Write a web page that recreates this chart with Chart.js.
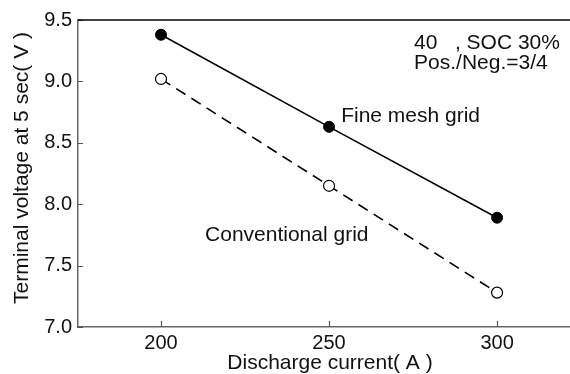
<!DOCTYPE html>
<html>
<head>
<meta charset="utf-8">
<script src="https://cdn.jsdelivr.net/npm/chart.js@4.4.1/dist/chart.umd.min.js"></script>
<style>
  html, body { margin: 0; padding: 0; background: #fff; }
  canvas { display: block; }
</style>
</head>
<body>
<canvas id="chart" width="570" height="374"></canvas>
<script>
// data
const currents = [200, 250, 300];
const fineMesh = [9.38, 8.63, 7.89];
const conventional = [9.02, 8.15, 7.28];
const xTicks = [200, 250, 300];
const yTicks = [7.0, 7.5, 8.0, 8.5, 9.0, 9.5];

// text labels inside the plot: [text, x value, y value]
const notes = [
    ["Fine mesh grid", 253.6, 8.72],
    ["Conventional grid", 213.1, 7.75],
    ["40   , SOC 30%", 275.3, 9.31],
    ["Pos./Neg.=3/4", 275.3, 9.15]
];

const FONT = "'Liberation Sans', Arial, sans-serif";
const INK = "#111";

const toPts = (ys) => currents.map((x, i) => ({ x: x, y: ys[i] }));

// inward tick marks, top frame line, axis titles and the text labels
const extras = {
    id: "extras",
    afterDraw(chart) {
        const ctx = chart.ctx;
        const a = chart.chartArea;
        const xs = chart.scales.x;
        const ys = chart.scales.y;
        ctx.save();
        ctx.strokeStyle = "#555";
        ctx.lineWidth = 1.2;
        ctx.beginPath();
        xTicks.forEach(v => {
            const px = Math.round(xs.getPixelForValue(v)) + 0.5;
            ctx.moveTo(px, a.bottom);
            ctx.lineTo(px, a.bottom - 6);
        });
        yTicks.forEach(v => {
            const py = Math.round(ys.getPixelForValue(v)) + 0.5;
            ctx.moveTo(a.left, py);
            ctx.lineTo(a.left + 5, py);
        });
        ctx.stroke();

        ctx.strokeStyle = "#000";
        ctx.lineWidth = 1.5;
        ctx.beginPath();
        ctx.moveTo(a.left, a.top);
        ctx.lineTo(chart.width, a.top);
        ctx.stroke();

        ctx.fillStyle = INK;
        ctx.font = "21px " + FONT;
        ctx.textAlign = "left";
        ctx.textBaseline = "middle";
        notes.forEach(n => {
            ctx.fillText(n[0], xs.getPixelForValue(n[1]), ys.getPixelForValue(n[2]));
        });

        // axis titles
        ctx.textAlign = "center";
        ctx.fillText("Discharge current( A )", 330, 363);
        ctx.translate(22, 168);
        ctx.rotate(-Math.PI / 2);
        ctx.fillText("Terminal voltage at 5 sec( V )", 0, 0);
        ctx.restore();
    }
};

new Chart(document.getElementById("chart"), {
    type: "scatter",
    data: {
        datasets: [
            {
                label: "Fine mesh grid",
                data: toPts(fineMesh),
                showLine: true,
                borderColor: "#000",
                borderWidth: 1.6,
                pointRadius: 5.5,
                pointBackgroundColor: "#000",
                pointBorderColor: "#000",
                pointBorderWidth: 1
            },
            {
                label: "Conventional grid",
                data: toPts(conventional),
                showLine: true,
                borderColor: "#000",
                borderWidth: 1.6,
                borderDash: [11, 7],
                pointRadius: 5.5,
                pointBackgroundColor: "#fff",
                pointBorderColor: "#000",
                pointBorderWidth: 1.2
            }
        ]
    },
    options: {
        responsive: false,
        animation: false,
        devicePixelRatio: 1,
        layout: { autoPadding: false, padding: { top: 20, right: 0, left: 0, bottom: 0 } },
        plugins: {
            legend: { display: false },
            tooltip: { enabled: false }
        },
        scales: {
            x: {
                type: "linear",
                min: 175.3,
                max: 321.7,
                afterBuildTicks: (s) => { s.ticks = xTicks.map(v => ({ value: v })); },
                afterFit: (s) => { s.height = 47; s.paddingLeft = 0; s.paddingRight = 0; },
                grid: { display: false, drawTicks: false },
                border: { display: true, color: "#666", width: 1.5 },
                ticks: { color: INK, font: { family: FONT, size: 20 }, padding: 4 }
            },
            y: {
                min: 7,
                max: 9.5,
                afterBuildTicks: (s) => { s.ticks = yTicks.map(v => ({ value: v })); },
                afterFit: (s) => { s.width = 78; },
                grid: { display: false, drawTicks: false },
                border: { display: true, color: "#666", width: 1.5 },
                ticks: {
                    color: INK,
                    font: { family: FONT, size: 20 },
                    padding: 6,
                    callback: (v) => v.toFixed(1)
                }
            }
        }
    },
    plugins: [extras]
});
</script>
</body>
</html>
